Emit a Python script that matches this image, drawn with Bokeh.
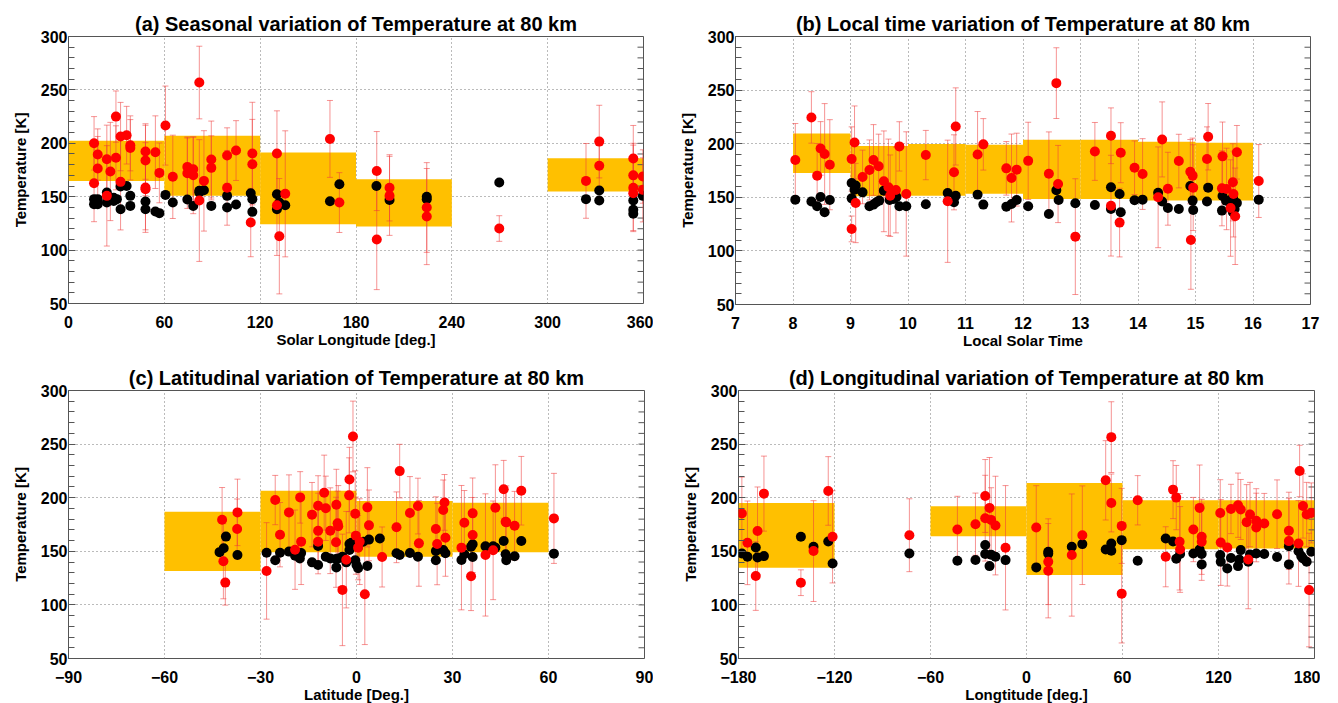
import numpy as np
from bokeh.plotting import figure
from bokeh.models import Range1d, FixedTicker
from bokeh.layouts import column, row
from bokeh.embed import file_html
from bokeh.resources import INLINE

# ---------------- (a) Solar longitude ----------------
ls_red_x = [16, 18.3, 18.3, 16, 24, 24, 26.2, 29.7, 29.7, 32.6, 36.4, 32.6, 38.7, 38.7, 48.2, 48.2, 48.2, 48.2, 54.4, 56.9,
            60.7, 65.3, 74.4, 74.4, 78.1, 78.1, 81.9, 81.9, 84.8, 89.4, 89.4, 99.3, 99.3, 104.9, 115.1, 115.1, 114.1, 130.5, 130.5, 132,
            135.7, 163.7, 169.6, 193, 193, 201, 201, 224.3, 224.3, 269.7, 324, 332.3, 332.3, 353.6, 353.6, 353.6, 353.6, 359.6, 359.6]
ls_red_t = [200, 189.5, 176.4, 162.6, 185, 150.8, 173.6, 225, 186.4, 206.3, 207.6, 163.9, 198.2, 195.7, 192.3, 183.9, 158.6, 157, 191.7, 172.3,
            216.6, 168.6, 177.9, 172, 175.7, 170.1, 256.9, 146.4, 164.8, 184.8, 177, 188.5, 158.3, 193.2, 190.4, 180.4, 125.8, 190.4, 142, 113,
            152.7, 204.1, 144.5, 174, 110, 158.3, 150.8, 139.9, 131.4, 120.2, 164.8, 201.6, 178.9, 185.7, 170, 158.3, 153.3, 168.9, 156.4]
ls_red_err = [25, 24, 30, 36, 32, 47, 46, 24, 30, 32, 27, 45, 24, 30, 26, 33, 42, 38, 34, 28,
              37, 39, 28, 33, 30, 36, 34, 57, 47, 36, 30, 26, 35, 28, 48, 42, 32, 40, 47, 54,
              59, 36, 28, 37, 47, 31, 37, 42, 45, 12, 35, 34, 24, 31, 30, 40, 36, 25, 30]
ls_blk_x = [16, 16, 18.3, 18.3, 24, 24, 28.3, 28.3, 30.3, 32.6, 32.6, 36.4, 38.7, 38.7, 48.2, 48.2, 54.4, 56.9, 60.7, 65.3,
            74.4, 78.1, 81.9, 81.9, 84.8, 89.4, 99.3, 99.3, 104.9, 114.1, 115.1, 115.1, 130.5, 130.5, 132, 135.7, 163.7, 169.6, 192.8, 201,
            224.3, 224.3, 269.7, 324, 332.3, 332.3, 353.6, 353.6, 353.6, 359.6]
ls_blk_t = [147.7, 142.9, 147.7, 142.9, 153.9, 144.5, 146, 149, 147.7, 138.3, 159.5, 160, 150.8, 141.4, 145.5, 138.3, 136.1, 134.6, 151.7, 144.5,
            147.4, 141.4, 155.5, 154, 156, 141.4, 150.8, 139.9, 142.7, 153.3, 147.7, 135.8, 152.3, 138.3, 144.5, 142, 145.8, 161.7, 160.1, 147,
            150, 147.7, 163.3, 147.7, 155.8, 146.4, 146.4, 137.7, 134, 150.8]
ls_bin_lo = [0, 60, 120, 180, 300]
ls_bin_hi = [60, 120, 180, 240, 360]
ls_band_low = [164.8, 150.8, 124.3, 122.1, 154.8]
ls_band_high = [202.3, 207.0, 191.3, 166.4, 186.0]
ls_ticks = [0, 60, 120, 180, 240, 300, 360]

# ---------------- (b) Local solar time ----------------
lt_red_x = [8.04, 8.32, 8.42, 8.48, 8.55, 8.64, 9.02, 9.02, 9.07, 9.09, 9.21, 9.33, 9.4, 9.49, 9.58, 9.66, 9.69, 9.79, 9.85, 9.97,
            10.31, 10.69, 10.8, 10.83, 11.21, 11.31, 11.71, 11.8, 11.89, 12.09, 12.45, 12.61, 12.58, 12.91, 13.25, 13.53, 13.53, 13.7, 13.68, 13.94,
            14.08, 14.35, 14.42, 14.52, 14.71, 14.91, 14.95, 14.96, 14.92, 15.2, 15.22, 15.47, 15.46, 15.54, 15.65, 15.66, 15.61, 15.69, 15.72, 16.1]
lt_red_t = [184.8, 224.5, 170.2, 195.6, 190.4, 180.4, 185.7, 120.5, 201.2, 144.7, 169, 175.5, 184.8, 178.9, 164.9, 159.3, 151.5, 156.8, 197.5, 153.1,
            189.4, 146.3, 173.3, 216.1, 190, 199.4, 177, 168, 175.8, 184, 172, 162.4, 256.5, 113.3, 192.8, 207.4, 142.2, 191.6, 126.4, 177.6,
            171.7, 150, 204, 158, 183.8, 173.9, 170.2, 159, 110.2, 185.7, 206.5, 188.2, 158.4, 157.8, 164, 153, 140, 132.3, 192, 165.2]
lt_red_err = [34, 24, 30, 25, 47, 42, 30, 12, 34, 37, 25, 28, 33, 30, 47, 45, 38, 40, 23, 58,
              23, 57, 35, 36, 40, 24, 25, 41, 34, 36, 39, 36, 33, 54, 27, 26, 47, 28, 32, 25,
              33, 47, 35, 34, 25, 30, 35, 40, 46, 30, 31, 32, 35, 38, 36, 40, 45, 45, 25, 34]
lt_blk_x = [8.04, 8.32, 8.42, 8.48, 8.55, 8.64, 9.02, 9.02, 9.09, 9.07, 9.21, 9.33, 9.4, 9.45, 9.5, 9.58, 9.68, 9.75, 9.8, 9.85,
            9.97, 10.31, 10.69, 10.8, 10.83, 11.21, 11.31, 11.71, 11.8, 11.89, 12.09, 12.45, 12.58, 12.62, 12.91, 13.25, 13.53, 13.53, 13.68, 13.7,
            13.94, 14.08, 14.35, 14.42, 14.52, 14.71, 14.91, 14.95, 14.96, 15.2, 15.22, 15.46, 15.47, 15.53, 15.59, 15.65, 15.68, 15.72, 15.65, 16.1]
lt_blk_t = [147.8, 146, 141.6, 150.3, 136, 147.5, 163.3, 149, 160.9, 157.1, 154.6, 141.6, 143.2, 145.3, 146.9, 156.2, 147.5, 148.4, 150.3, 141.6,
            141.6, 143.5, 154, 145.3, 151.5, 152.5, 143.2, 141.3, 143.8, 147.5, 141.6, 134.5, 156.5, 147.5, 144.4, 142.8, 159.3, 139.1, 153.1, 136,
            147.2, 147.8, 154.3, 146, 140, 139.1, 160.5, 146.9, 138.2, 146, 159, 137.6, 151.2, 146.9, 145.3, 150, 139.1, 144.7, 136, 147.8]
lt_bin_lo = [8, 9, 10, 11, 12, 13, 14, 15]
lt_bin_hi = [9, 10, 11, 12, 13, 14, 15, 16]
lt_band_low = [172.7, 150.9, 151.5, 153.4, 148.4, 148.4, 146.9, 146.9]
lt_band_high = [209.6, 197.8, 199.7, 199.0, 203.7, 203.7, 201.9, 201.0]
lt_ticks = [7, 8, 9, 10, 11, 12, 13, 14, 15, 16, 17]

# ---------------- (c) Latitude ----------------
lat_red_x = [-42, -41.6, -41, -37.2, -37.3, -28.1, -25.4, -23.9, -21.1, -19.2, -17.6, -17.3, -13.9, -12, -12, -12, -10.1, -9.6, -8.2, -6.3,
             -5.9, -5.7, -6.4, -4.4, -3.2, -2.2, -2.3, -1.1, -0.4, -0.2, 0.5, 1, 2.6, 3.4, 3.9, 8, 12.5, 13.5, 16.7, 19.2,
             19.5, 24.8, 25.2, 27.1, 27.5, 27.8, 32.8, 33.7, 36.3, 36.3, 35.8, 40.3, 42.7, 43.4, 46, 46.6, 46.8, 49.4, 51.5, 61.7]
lat_red_t = [179.5, 140.7, 120.8, 186.3, 170.8, 131.7, 197.8, 165.5, 186.3, 151.5, 200.3, 159, 184.2, 192.5, 169.2, 159, 204.7, 190.1, 169.2, 193.5,
             176.1, 173.3, 158.4, 114, 142.2, 217, 202.2, 257.1, 185.1, 164.6, 153.4, 159, 110, 191, 174.2, 144.7, 172.4, 224.8, 185.7, 192.2,
             157.4, 170.8, 156.8, 188.5, 195.6, 162.7, 153.4, 176.7, 185.4, 165.2, 126.7, 146.6, 150.9, 190.7, 207.8, 177.6, 177, 173.9, 206.5, 180.7]
lat_red_err = [30, 35, 21, 31, 28, 45, 23, 30, 35, 37, 24, 40, 30, 28, 35, 30, 35, 30, 40, 33,
               30, 38, 42, 52, 45, 30, 35, 33, 40, 36, 30, 40, 47, 37, 33, 28, 33, 25, 34, 26,
               40, 30, 38, 28, 26, 36, 58, 30, 33, 35, 32, 57, 46, 40, 27, 30, 34, 32, 32, 42]
lat_blk_x = [-42.8, -41.5, -40.8, -37.2, -28.1, -25.4, -23.9, -21.1, -19.2, -19.2, -17.3, -17.7, -13.9, -12, -12, -9.6, -8.2, -6.4, -6.3, -5.7,
             -4.4, -3.2, -2.2, -1.6, -2.2, -0.4, 0, 0.5, 0.5, 2.1, 3.9, 3.4, 7.3, 12.5, 13.5, 16.7, 19.2, 24.8, 24.8, 27.1,
             27.8, 32.8, 33.7, 36.3, 35.8, 36.3, 40.3, 42.7, 43.4, 46, 46.6, 46.8, 49.4, 51.5, 61.7]
lat_blk_t = [149.2, 152.9, 163.7, 146.6, 148.7, 141.6, 148.7, 149.7, 148.7, 145.9, 148.4, 143.4, 139.7, 137.3, 155, 145, 143.4, 142.8, 135, 143.4,
             145, 139.7, 156.8, 158, 151.2, 141.6, 137.3, 134.2, 154.3, 159, 160.9, 136.4, 162, 148.1, 146.6, 148.4, 145, 150.3, 141.6, 151.2,
             148.1, 141.9, 147.2, 156.5, 154.3, 144.7, 154.6, 154.6, 153.4, 159.6, 147.2, 141.6, 145.3, 159.6, 147.8]
lat_bin_lo = [-60, -30, 0, 30]
lat_bin_hi = [-30, 0, 30, 60]
lat_band_low = [131.7, 149.0, 145.0, 149.0]
lat_band_high = [187.0, 206.5, 196.9, 195.3]
lat_ticks = [-90, -60, -30, 0, 30, 60, 90]

# ---------------- (d) Longitude ----------------
lon_red_x = [-177.9, -174.4, -168.1, -169.2, -164.1, -141, -133.1, -123.9, -121.2, -73.2, -43.2, -31.9, -25.8, -23.1, -25.8, -22.1, -19.4, -13.1, 6.1, 13.6,
             13.6, 28.3, 34.9, 49.5, 53, 53, 59.5, 59.5, 69.5, 87, 91.6, 93.6, 95.7, 96, 104.3, 108.2, 109.5, 109.5, 121.1, 121.4,
             125.5, 127.8, 132.2, 133.9, 137.6, 138.6, 139.7, 143.6, 143.6, 148.6, 156.6, 164, 164, 170.7, 172.8, 175.1, 178, 176.6, 170]
lon_red_t = [185.2, 157.9, 169, 126.9, 203.8, 120.7, 150.2, 206.3, 163.5, 165, 170.3, 175.3, 201.6, 190.5, 180.9, 179.3, 174, 153.3, 172.2, 140.3,
             131.9, 146.5, 165, 216.2, 256.5, 195.1, 173.7, 110.5, 197.6, 144.9, 207.5, 200.1, 158.9, 151.7, 170.3, 190.5, 163.5, 158.9, 185.8, 158.2,
             153.6, 189.5, 193, 189, 177.2, 142.4, 184.3, 178.4, 172.2, 176, 184.6, 169.1, 159.5, 224.9, 192.3, 184.3, 185.8, 113.9, 157.3]
lon_red_err = [34, 39, 41, 32, 35, 12, 47, 32, 43, 34, 31, 29, 34, 47, 40, 30, 46, 58, 39, 40,
               44, 57, 46, 37, 33, 27, 35, 46, 23, 28, 27, 30, 45, 40, 30, 40, 35, 36, 31, 40,
               36, 23, 30, 28, 35, 46, 30, 30, 32, 28, 32, 36, 40, 24, 30, 30, 28, 53, 40]
lon_blk_x = [-177.9, -174.4, -169.2, -168.1, -164.1, -141, -133.1, -123.9, -121.2, -73.2, -43.2, -31.9, -25.8, -25.8, -23.1, -22.1, -19.4, -13.1, 6.1, 13.6,
             13.6, 28.3, 34.9, 49.5, 53, 53, 59.5, 69.5, 87, 91.6, 93.6, 96, 104.3, 108.2, 109.5, 109.5, 121.1, 121.4, 125.5, 127.8,
             132.2, 133, 133.9, 138.6, 139.7, 143.6, 148.6, 156.6, 164, 164, 170, 171.7, 172.8, 175.1, 178]
lon_blk_t = [148, 144.9, 153.6, 144.3, 145.5, 163.5, 154.2, 159.2, 138.7, 148, 141.2, 141.8, 155.8, 147.4, 136.2, 146.8, 144.9, 141.8, 135, 149.6,
             147.7, 154.2, 156.7, 151.7, 157.3, 150.5, 160.4, 141.2, 162, 159.2, 143, 147.4, 148, 151.7, 147.4, 137.8, 146.5, 140.3, 134, 143.7,
             136.2, 142.4, 151.1, 140.3, 147.1, 148, 147.4, 144.6, 154.8, 137.8, 150, 145.5, 143.3, 140.3, 149.6]
lon_bin_lo = [-180, -60, 0, 60, 120]
lon_bin_hi = [-120, 0, 60, 120, 180]
lon_band_low = [134.7, 164.1, 127.9, 152.0, 152.5]
lon_band_high = [195.1, 192.0, 213.7, 197.6, 197.6]
lon_ticks = [-180, -120, -60, 0, 60, 120, 180]

temp_ticks = [50, 100, 150, 200, 250, 300]
temp_minor = list(range(50, 301, 10))

FONT = "Liberation Sans"
BAND = "#FFC000"
FRAME = "#555555"


def make_panel(title, xlabel, xticks, bin_lo, bin_hi, band_lo, band_hi,
               rx, rt, rerr, bx, bt, fw, fh, bl, br, bt_, bb):
    p = figure(frame_width=fw, frame_height=fh,
               x_range=Range1d(xticks[0], xticks[-1]), y_range=Range1d(50, 300),
               output_backend="svg", toolbar_location=None, title=title,
               min_border_left=bl, min_border_right=br, min_border_top=bt_, min_border_bottom=bb)
    p.title.text_font = FONT
    p.title.text_font_style = "bold"
    p.title.text_font_size = "20px"
    p.title.text_color = "black"
    p.title.align = "center"
    p.title.standoff = 4
    p.outline_line_color = FRAME
    p.outline_line_width = 1
    p.background_fill_color = "white"
    p.border_fill_color = "white"

    # x axis
    xa = p.xaxis[0]
    xa.ticker = FixedTicker(ticks=xticks)
    xa.axis_label = xlabel
    xa.axis_line_color = None
    xa.major_tick_in = 0
    xa.major_tick_out = 0
    xa.minor_tick_in = 0
    xa.minor_tick_out = 0
    xa.major_label_standoff = 12
    xa.axis_label_standoff = 0
    xa.major_label_text_font = FONT
    xa.major_label_text_font_style = "bold"
    xa.major_label_text_font_size = "16px"
    xa.major_label_text_color = "black"
    xa.axis_label_text_font = FONT
    xa.axis_label_text_font_style = "bold"
    xa.axis_label_text_font_size = "15px"
    xa.axis_label_text_color = "black"

    # y axis
    ya = p.yaxis[0]
    ya.ticker = FixedTicker(ticks=temp_ticks, minor_ticks=temp_minor)
    ya.axis_label = "Temperature [K]"
    ya.axis_line_color = None
    ya.major_tick_in = 7
    ya.major_tick_out = 0
    ya.minor_tick_in = 6
    ya.minor_tick_out = 0
    ya.major_tick_line_color = FRAME
    ya.minor_tick_line_color = FRAME
    ya.major_label_standoff = 1
    ya.axis_label_standoff = 9
    ya.major_label_text_font = FONT
    ya.major_label_text_font_style = "bold"
    ya.major_label_text_font_size = "16px"
    ya.major_label_text_color = "black"
    ya.axis_label_text_font = FONT
    ya.axis_label_text_font_style = "bold"
    ya.axis_label_text_font_size = "15px"
    ya.axis_label_text_color = "black"

    for g in (p.xgrid[0], p.ygrid[0]):
        g.grid_line_color = "#777777"
        g.grid_line_dash = "1 3"
        g.grid_line_width = 1

    # orange bands
    p.quad(left=bin_lo, right=bin_hi, bottom=band_lo, top=band_hi,
           fill_color=BAND, line_color=None)

    # mirrored minor ticks on the right frame edge
    p.ray(x=[xticks[-1]] * len(temp_minor), y=temp_minor, length=6, angle=np.pi,
          length_units="screen", line_color=FRAME, line_width=1)

    # error bars
    rx = np.array(rx, dtype=float)
    rt = np.array(rt, dtype=float)
    re = np.array(rerr, dtype=float)
    ecol = "#EE3B3B"
    p.segment(x0=rx, y0=rt - re, x1=rx, y1=rt + re, line_color=ecol, line_alpha=0.55, line_width=1)
    p.scatter(x=np.concatenate([rx, rx]), y=np.concatenate([rt - re, rt + re]), marker="dash",
              size=6, line_color=ecol, line_alpha=0.55, line_width=1)

    # black and red points
    p.scatter(x=bx, y=bt, size=10, fill_color="black", line_color=None)
    p.scatter(x=rx, y=rt, size=10, fill_color="#FF0000", line_color=None)
    return p


pa = make_panel("(a) Seasonal variation of Temperature at 80 km", "Solar Longitude [deg.]", ls_ticks,
                ls_bin_lo, ls_bin_hi, ls_band_low, ls_band_high,
                ls_red_x, ls_red_t, ls_red_err, ls_blk_x, ls_blk_t,
                575, 267, 68, 10, 36, 56)
pb = make_panel("(b) Local time variation of Temperature at 80 km", "Local Solar Time", lt_ticks,
                lt_bin_lo, lt_bin_hi, lt_band_low, lt_band_high,
                lt_red_x, lt_red_t, lt_red_err, lt_blk_x, lt_blk_t,
                575, 268, 82, 10, 34, 57)
pc = make_panel("(c) Latitudinal variation of Temperature at 80 km", "Latitude [Deg.]", lat_ticks,
                lat_bin_lo, lat_bin_hi, lat_band_low, lat_band_high,
                lat_red_x, lat_red_t, lat_red_err, lat_blk_x, lat_blk_t,
                576, 268, 68, 9, 29, 35)
pd_ = make_panel("(d) Longitudinal variation of Temperature at 80 km", "Longtitude [deg.]", lon_ticks,
                 lon_bin_lo, lon_bin_hi, lon_band_low, lon_band_high,
                 lon_red_x, lon_red_t, lon_red_err, lon_blk_x, lon_blk_t,
                 576, 268, 85, 6, 31, 33)

layout = column(row(pa, pb), row(pc, pd_))
open("out.html", "w").write(file_html(layout, INLINE))
